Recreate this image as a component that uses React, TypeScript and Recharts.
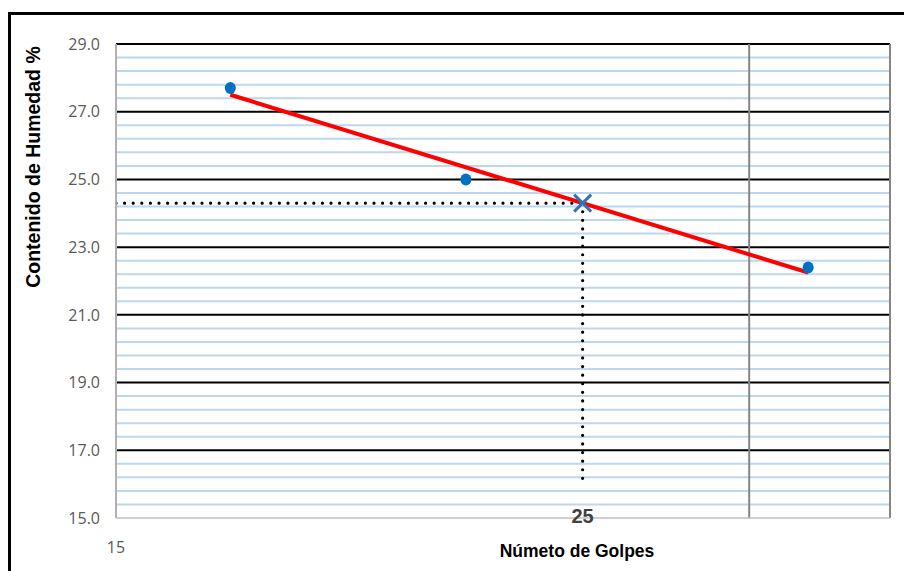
import React from "react";
import {
  CartesianGrid,
  ComposedChart,
  Label,
  Line,
  Scatter,
  XAxis,
  YAxis,
} from "recharts";

// ensayos de limite liquido
const golpes = [17, 22, 32];
const humedad = [27.7, 25.0, 22.4];

// recta de tendencia (extremos)
const trendGolpes = [17, 32];
const trendHumedad = [27.5, 22.25];

// limite liquido a 25 golpes
const llGolpes = 25;
const llHumedad = 24.3;
const dottedBottom = 16.0;

const yTicks = [15, 17, 19, 21, 23, 25, 27, 29];
const yMajor = [17, 19, 21, 23, 25, 27, 29];
const yMinor: number[] = [];
for (let i = 0; i < 7; i++) {
  for (let k = 1; k <= 4; k++) yMinor.push(+(15 + i * 2 + k * 0.4).toFixed(1));
}
const xTicks = [15, 25];
const xGrid = [30, 35];

const points = golpes.map((g, i) => ({ x: g, y: humedad[i] }));
const trend = trendGolpes.map((g, i) => ({ x: g, y: trendHumedad[i] }));
const llPoint = [{ x: llGolpes, y: llHumedad }];
const hDots = [
  { x: 15, y: llHumedad },
  { x: llGolpes, y: llHumedad },
];
const vDots = [
  { x: llGolpes, y: llHumedad },
  { x: llGolpes, y: dottedBottom },
];

const gridAt = (values: number[]) => (args: any) => {
  const scale = args?.yAxis?.scale;
  if (!scale) return [];
  const fn = typeof scale === "function" ? scale : scale.map ?? scale.apply;
  return values.map((v) => (typeof scale === "function" ? scale(v) : fn.call(scale, v)));
};

const XTick = (props: any) => {
  const { x, y, payload } = props;
  if (payload.value === 25) {
    return (
      <text
        x={x}
        y={y + 5}
        textAnchor="middle"
        fontFamily="'Liberation Sans', Arial"
        fontWeight="bold"
        fontSize={20}
        fill="#404040"
      >
        25
      </text>
    );
  }
  return (
    <text
      x={x}
      y={y + 35}
      textAnchor="middle"
      fontFamily="'Open Sans', sans-serif"
      fontSize={16}
      fill="#595959"
    >
      {payload.value}
    </text>
  );
};

const CrossShape = (props: any) => {
  const { cx, cy } = props;
  const s = 8.5;
  return (
    <g stroke="#2e75b6" strokeWidth={3}>
      <line x1={cx - s} y1={cy - s} x2={cx + s} y2={cy + s} />
      <line x1={cx - s} y1={cy + s} x2={cx + s} y2={cy - s} />
    </g>
  );
};

const DotShape = (props: any) => {
  const { cx, cy } = props;
  return <ellipse cx={cx} cy={cy} rx={5.5} ry={6} fill="#0070c0" />;
};

export default function App() {
  return (
    <div
      style={{
        position: "absolute",
        left: 0,
        top: 0,
        width: 904,
        height: 571,
        overflow: "hidden",
        background: "#fff",
      }}
    >
      <div
        style={{
          position: "absolute",
          left: 8,
          top: 12,
          width: 1000,
          height: 700,
          borderTop: "3px solid #000",
          borderLeft: "3px solid #000",
        }}
      />
      <ComposedChart
        width={904}
        height={571}
        margin={{ top: 44, right: 14, bottom: 0, left: 56 }}
        style={{ position: "absolute", left: 0, top: 0 }}
      >
        <CartesianGrid
          vertical={false}
          horizontalCoordinatesGenerator={gridAt(yMinor)}
          stroke="#bdd7ee"
          strokeWidth={2}
        />
        <CartesianGrid
          vertical={false}
          horizontalCoordinatesGenerator={gridAt(yMajor)}
          stroke="#000"
          strokeWidth={2}
        />
        <CartesianGrid
          xAxisId="v"
          horizontal={false}
          stroke="#858585"
          strokeWidth={2}
        />
        <XAxis
          dataKey="x"
          type="number"
          scale="log"
          domain={[15, 35]}
          allowDataOverflow
          ticks={xTicks}
          tick={<XTick />}
          tickLine={false}
          tickSize={0}
          tickMargin={0}
          height={53}
          stroke="#bfbfbf"
          strokeWidth={1.5}
        >
          <Label
            content={() => (
              <text
                x={577}
                y={557}
                textAnchor="middle"
                fontFamily="'Liberation Sans', Arial"
                fontWeight="bold"
                fontSize={17.5}
                fill="#000"
              >
                Númeto de Golpes
              </text>
            )}
          />
        </XAxis>
        <XAxis
          xAxisId="v"
          dataKey="x"
          type="number"
          scale="log"
          domain={[15, 35]}
          allowDataOverflow
          ticks={xGrid}
          hide
        />
        <YAxis
          type="number"
          domain={[15, 29]}
          allowDataOverflow
          ticks={yTicks}
          tickFormatter={(v) => v.toFixed(1)}
          tickLine={false}
          tickSize={0}
          tickMargin={16}
          width={60}
          stroke="#bfbfbf"
          strokeWidth={1.5}
          tick={{
            fill: "#595959",
            fontSize: 16,
            fontFamily: "'Open Sans', sans-serif",
          }}
        >
          <Label
            content={() => (
              <text
                x={40}
                y={167}
                transform="rotate(-90 40 167)"
                textAnchor="middle"
                fontFamily="'Liberation Sans', Arial"
                fontWeight="bold"
                fontSize={19.5}
                fill="#000"
              >
                Contenido de Humedad %
              </text>
            )}
          />
        </YAxis>
        <Line
          data={hDots}
          dataKey="y"
          stroke="#000"
          strokeWidth={3.2}
          strokeDasharray="0 8.6"
          strokeLinecap="round"
          dot={false}
          activeDot={false}
          isAnimationActive={false}
        />
        <Line
          data={vDots}
          dataKey="y"
          stroke="#000"
          strokeWidth={3.2}
          strokeDasharray="0 8.6"
          strokeLinecap="round"
          dot={false}
          activeDot={false}
          isAnimationActive={false}
        />
        <Line
          data={trend}
          dataKey="y"
          stroke="#ff0000"
          strokeWidth={4}
          dot={false}
          activeDot={false}
          isAnimationActive={false}
        />
        <Scatter
          data={points}
          dataKey="y"
          shape={<DotShape />}
          isAnimationActive={false}
        />
        <Scatter
          data={llPoint}
          dataKey="y"
          shape={<CrossShape />}
          isAnimationActive={false}
        />
      </ComposedChart>
    </div>
  );
}
